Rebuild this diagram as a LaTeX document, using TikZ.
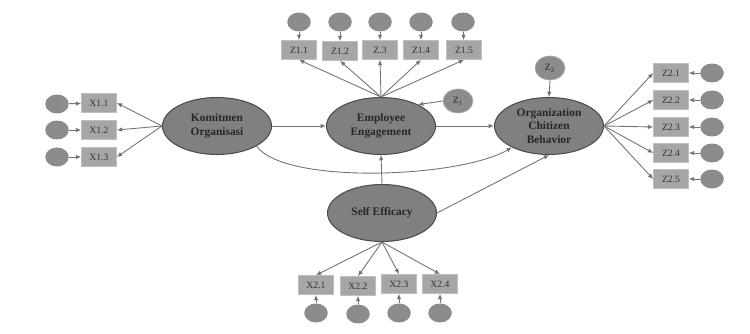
\documentclass[tikz,border=0pt]{standalone}
\usepackage{fontspec}
\setmainfont{Liberation Serif}
\usetikzlibrary{shapes.geometric,arrows.meta}

\begin{document}
\begin{tikzpicture}[x=0.02cm, y=-0.02cm,
    latent/.style={ellipse, draw=black!70, fill=black!50, line width=0.6pt, minimum width=2.18cm, minimum height=1.14cm, inner sep=0pt, align=center, text=black!85, font=\fontsize{6.5}{7.8}\selectfont\bfseries},
    indicator/.style={rectangle, draw=black!25, fill=black!35, minimum width=0.7cm, minimum height=0.38cm, inner sep=0pt, text=black!80, font=\fontsize{5.5}{6}\selectfont},
    error/.style={ellipse, fill=black!45, minimum width=0.47cm, minimum height=0.38cm, inner sep=0pt},
    disturbance/.style={error, draw=black!30, minimum width=0.6cm, minimum height=0.48cm, text=black!85, font=\fontsize{5.5}{6}\selectfont},
    arrow/.style={-{Latex[length=3pt, width=2.6pt]}, draw=black!55, line width=0.5pt}
]
\useasboundingbox (0,0) rectangle (750,334);

% Latent variables
\node[latent] (KO) at (217,126) {Komitmen\\Organisasi};
\node[latent] (EE) at (381,126) {Employee\\Engagement};
\node[latent] (OCB) at (549,126) {Organization\\Chitizen\\Behavior};
\node[latent] (SE) at (382,213) {Self Efficacy};

% Disturbances
\node[disturbance] (Z1) at (458,101) {Z\textsubscript{1}};
\node[disturbance] (Z2) at (550,68) {Z\textsubscript{2}};

% Indicators of Komitmen Organisasi
\node[indicator] (X11) at (99,103) {X1.1};
\node[indicator] (X12) at (99,130) {X1.2};
\node[indicator] (X13) at (99,157) {X1.3};
\node[error] (E11) at (57,104) {};
\node[error] (E12) at (57,130) {};
\node[error] (E13) at (57,157) {};

% Indicators of Employee Engagement
\node[indicator] (Z11) at (299,50) {Z1.1};
\node[indicator] (Z12) at (340,51) {Z1.2};
\node[indicator] (Z13) at (380,50) {Z.3};
\node[indicator] (Z14) at (421,50) {Z1.4};
\node[indicator] (Z15) at (464,50) {Z1.5};
\node[error] (F11) at (299,22) {};
\node[error] (F12) at (340,22) {};
\node[error] (F13) at (380,22) {};
\node[error] (F14) at (421,22) {};
\node[error] (F15) at (463,22) {};

% Indicators of Organization Chitizen Behavior
\node[indicator] (Z21) at (671,73) {Z2.1};
\node[indicator] (Z22) at (671,100) {Z2.2};
\node[indicator] (Z23) at (671,127) {Z2.3};
\node[indicator] (Z24) at (671,153) {Z2.4};
\node[indicator] (Z25) at (671,179) {Z2.5};
\node[error] (G21) at (712,73) {};
\node[error] (G22) at (712,100) {};
\node[error] (G23) at (712,127) {};
\node[error] (G24) at (712,153) {};
\node[error] (G25) at (712,179) {};

% Indicators of Self Efficacy
\node[indicator] (X21) at (316,285) {X2.1};
\node[indicator] (X22) at (358,286) {X2.2};
\node[indicator] (X23) at (399,284) {X2.3};
\node[indicator] (X24) at (440,284) {X2.4};
\node[error] (H21) at (316,313) {};
\node[error] (H22) at (358,314) {};
\node[error] (H23) at (399,313) {};
\node[error] (H24) at (440,313) {};

% Structural paths
\draw[arrow] (KO.east) -- (EE.west);
\draw[arrow] (EE.east) -- (OCB.west);
\draw[arrow] (SE.north) -- (EE.south);
\draw[arrow] (SE.east) -- (OCB.south);
\draw[arrow] (KO.-27) .. controls (285,185) and (460,178) .. (OCB.-150);
\draw[arrow] (Z1.west) -- (EE.30);
\draw[arrow] (Z2.south) -- (OCB.north);

% Loadings
\draw[arrow] (KO.west) -- (X11.east);
\draw[arrow] (KO.west) -- (X12.east);
\draw[arrow] (KO.west) -- (X13.east);
\draw[arrow] (EE.north) -- (Z11.south);
\draw[arrow] (EE.north) -- (Z12.south);
\draw[arrow] (EE.north) -- (Z13.south);
\draw[arrow] (EE.north) -- (Z14.south);
\draw[arrow] (EE.north) -- (Z15.south);
\draw[arrow] (OCB.east) -- (Z21.west);
\draw[arrow] (OCB.east) -- (Z22.west);
\draw[arrow] (OCB.east) -- (Z23.west);
\draw[arrow] (OCB.east) -- (Z24.west);
\draw[arrow] (OCB.east) -- (Z25.west);
\draw[arrow] (SE.south) -- (X21.north);
\draw[arrow] (SE.south) -- (X22.north);
\draw[arrow] (SE.south) -- (X23.north);
\draw[arrow] (SE.south) -- (X24.north);

% Measurement errors
\draw[arrow] (E11) -- (X11);
\draw[arrow] (E12) -- (X12);
\draw[arrow] (E13) -- (X13);
\draw[arrow] (F11) -- (Z11);
\draw[arrow] (F12) -- (Z12);
\draw[arrow] (F13) -- (Z13);
\draw[arrow] (F14) -- (Z14);
\draw[arrow] (F15) -- (Z15);
\draw[arrow] (G21) -- (Z21);
\draw[arrow] (G22) -- (Z22);
\draw[arrow] (G23) -- (Z23);
\draw[arrow] (G24) -- (Z24);
\draw[arrow] (G25) -- (Z25);
\draw[arrow] (H21) -- (X21);
\draw[arrow] (H22) -- (X22);
\draw[arrow] (H23) -- (X23);
\draw[arrow] (H24) -- (X24);

\end{tikzpicture}
\end{document}
